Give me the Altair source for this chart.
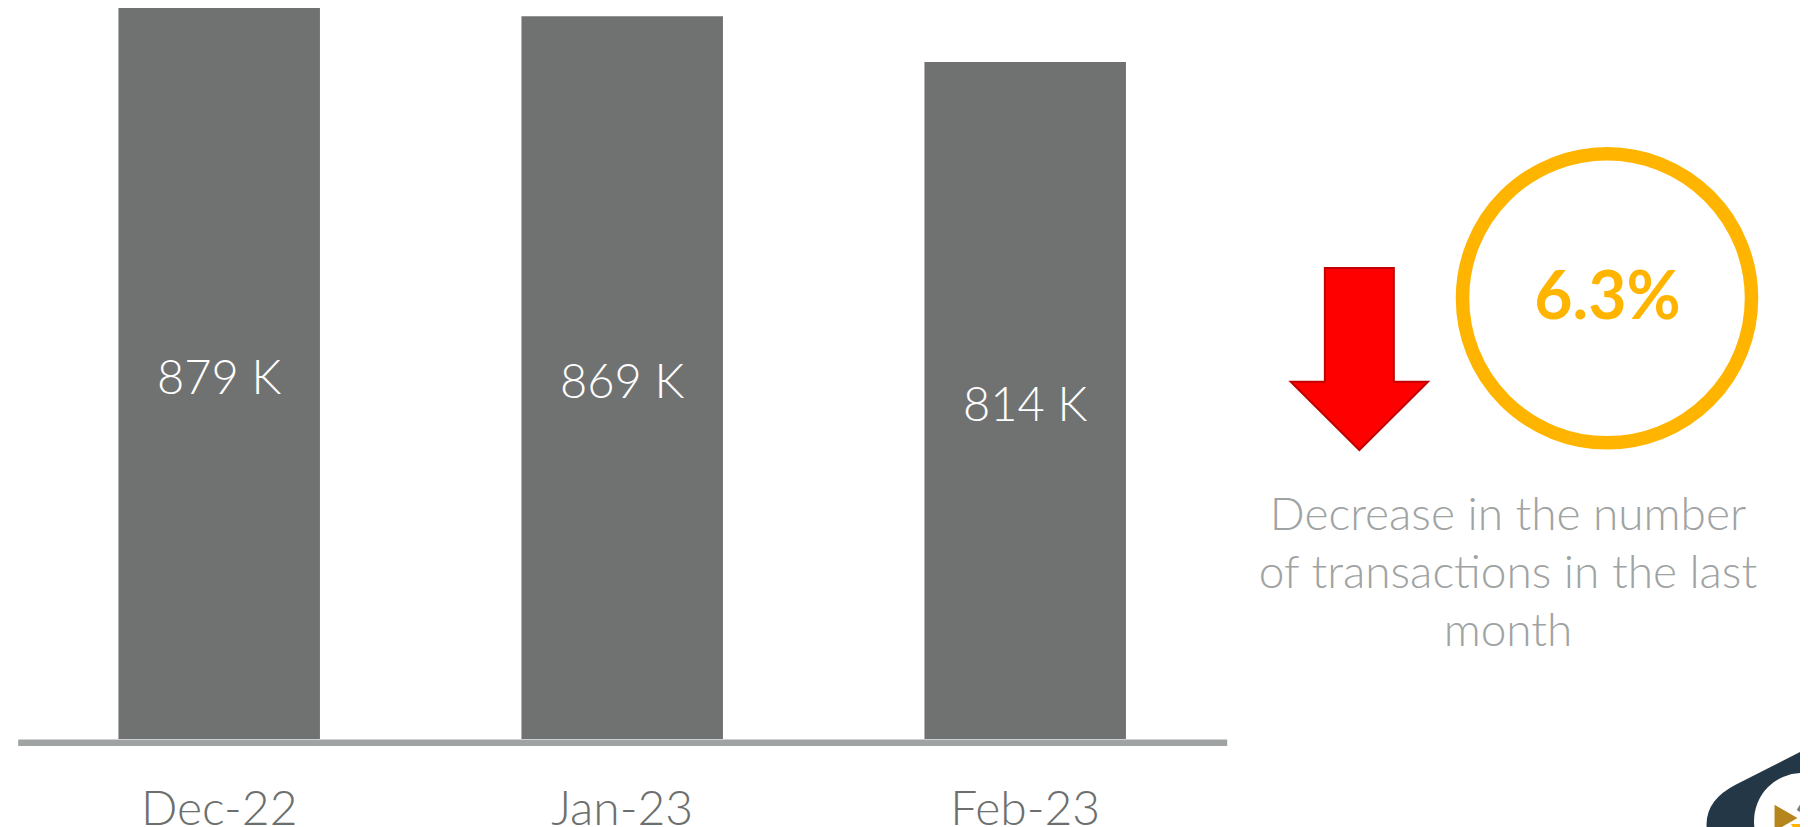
import altair as alt
import pandas as pd

# ---------------- data ----------------
months = ["Dec-22", "Jan-23", "Feb-23"]
transactions_k = [879, 869, 814]
bar_labels = ["879 K", "869 K", "814 K"]
change_pct = "6.3%"
caption_lines = ["Decrease in the number", "of transactions in the last", "month"]

df = pd.DataFrame({"month": months, "value": transactions_k, "label": bar_labels})
df["mid"] = df["value"] / 2
ann = pd.DataFrame({"k": [0]})

# ---------------- layout ----------------
W, H = 1209, 731
PL, PT = 9.7, 0
SVG_W, SVG_H = 1792, 819
PR = SVG_W - PL - W
PB = SVG_H - PT - H


def px(x):
    return x - 8 - PL


def py(y):
    return y - 8 - PT


FONT = "Lato"
BAR = "#707271"
AMBER = "#FFB500"

x_enc = alt.X(
    "month:N",
    sort=months,
    scale=alt.Scale(paddingInner=0.5, paddingOuter=0.25),
    axis=alt.Axis(
        title=None,
        domainColor="#a0a3a3",
        domainWidth=6.4,
        domainCap="butt",
        offset=3.2,
        ticks=False,
        tickSize=0,
        grid=False,
        labelAngle=0,
        labelFont=FONT,
        labelFontSize=48,
        labelFontWeight=300,
        labelColor="#6d6f6e",
        labelBaseline="alphabetic",
        labelPadding=82,
    ),
)
y_scale = alt.Scale(domain=[0, 879], nice=False, zero=True)

bars = alt.Chart(df).mark_bar(color=BAR).encode(
    x=x_enc,
    y=alt.Y("value:Q", scale=y_scale, axis=None),
)

bar_text = alt.Chart(df).mark_text(
    font=FONT, fontSize=47, fontWeight=300, color="white", baseline="middle", dy=6
).encode(
    x=alt.X("month:N", sort=months),
    y=alt.Y("mid:Q", scale=y_scale, axis=None),
    text="label:N",
)

ARROW = "M -0.379 -1 L 0.379 -1 L 0.379 0.249 L 0.754 0.249 L 0 1 L -0.754 0.249 L -0.379 0.249 Z"
arrow = alt.Chart(ann).mark_point(
    shape=ARROW, size=33124, filled=True, fill="#FF0000", stroke="#C00000",
    strokeWidth=2, opacity=1,
).encode(x=alt.value(px(1359.35)), y=alt.value(py(359)))

ring = alt.Chart(ann).mark_point(
    shape="circle", size=289 * 289, filled=False, stroke=AMBER, strokeWidth=13.5, opacity=1,
).encode(x=alt.value(px(1607)), y=alt.value(py(298.3)))

pct = alt.Chart(ann).mark_text(
    text=change_pct, font=FONT, fontSize=66, fontWeight="bold", color=AMBER,
    baseline="middle", align="center",
).encode(x=alt.value(px(1607.5)), y=alt.value(py(299)))

caption = alt.Chart(ann).mark_text(
    text=caption_lines, font=FONT, fontSize=46, fontWeight=300, color="#a0a3a3",
    align="center", baseline="alphabetic", lineHeight=58,
).encode(x=alt.value(px(1508)), y=alt.value(py(530)))

# ---------------- corner logo (decoration) ----------------
RSQ = "M -0.5 -1 L 0.5 -1 Q 1 -1 1 -0.5 L 1 0.5 Q 1 1 0.5 1 L -0.5 1 Q -1 1 -1 0.5 L -1 -0.5 Q -1 -1 -0.5 -1 Z"
logo_bg = alt.Chart(ann).mark_point(
    shape=RSQ, size=40000, angle=333, filled=True, fill="#233747", strokeWidth=0, opacity=1,
).encode(x=alt.value(px(1826)), y=alt.value(py(851)))
logo_circle = alt.Chart(ann).mark_point(
    shape="circle", size=96 * 96, filled=True, fill="white", strokeWidth=0, opacity=1,
).encode(x=alt.value(px(1802)), y=alt.value(py(821)))
logo_tri = alt.Chart(ann).mark_point(
    shape="triangle-right", size=700, filled=True, fill="#B5861E", strokeWidth=0, opacity=1,
).encode(x=alt.value(px(1786)), y=alt.value(py(818)))
logo_cube = alt.Chart(ann).mark_point(
    shape="square", size=500, angle=30, filled=True, fill="#7b7c7c", strokeWidth=0, opacity=1,
).encode(x=alt.value(px(1812)), y=alt.value(py(806)))
logo_yel = alt.Chart(ann).mark_point(
    shape="triangle-down", size=200, filled=True, fill=AMBER, strokeWidth=0, opacity=1,
).encode(x=alt.value(px(1798)), y=alt.value(py(830)))

chart = alt.layer(
    bars, bar_text, arrow, ring, pct, caption,
    logo_bg, logo_circle, logo_tri, logo_cube, logo_yel,
).properties(
    width=W,
    height=H,
    padding={"left": PL, "top": PT, "right": PR, "bottom": PB},
    autosize=alt.AutoSizeParams(type="none"),
    background="white",
).configure_view(stroke=None)

chart.save("out.html", embed_options={"renderer": "svg", "actions": False})
